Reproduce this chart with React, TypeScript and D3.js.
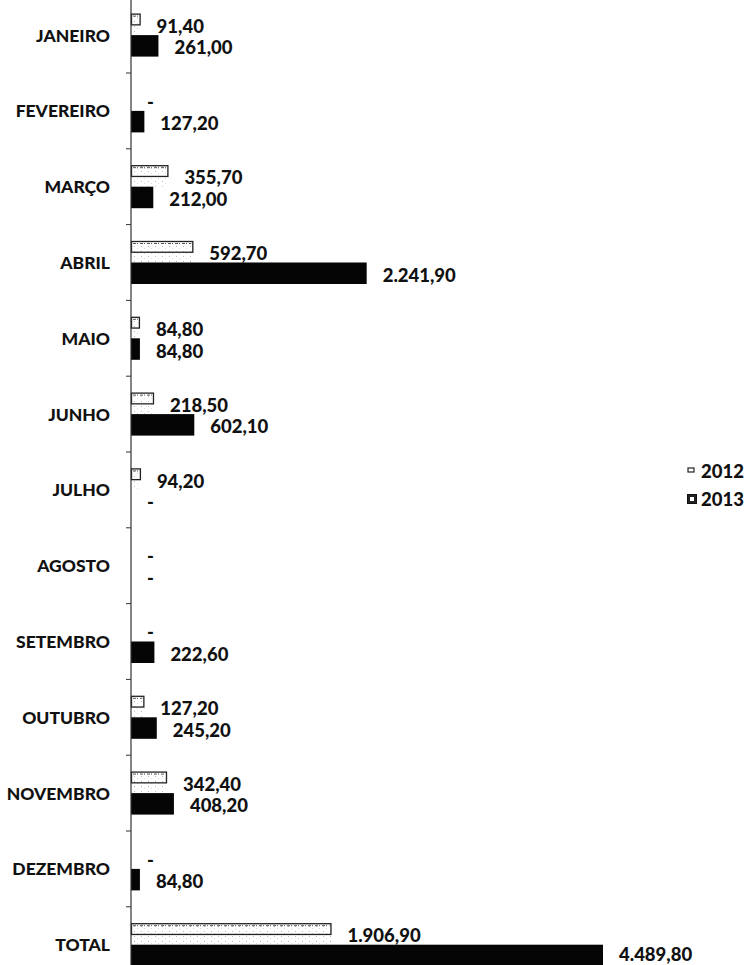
import React from 'react';
import * as d3 from 'd3';

const months = [
  'JANEIRO', 'FEVEREIRO', 'MARÇO', 'ABRIL', 'MAIO', 'JUNHO', 'JULHO',
  'AGOSTO', 'SETEMBRO', 'OUTUBRO', 'NOVEMBRO', 'DEZEMBRO', 'TOTAL',
];
const values2012 = [91.4, 0, 355.7, 592.7, 84.8, 218.5, 94.2, 0, 0, 127.2, 342.4, 0, 1906.9];
const values2013 = [261.0, 127.2, 212.0, 2241.9, 84.8, 602.1, 0, 0, 222.6, 245.2, 408.2, 84.8, 4489.8];
const seriesNames = ['2012', '2013'];

const W = 746;
const H = 965;
const FONT = 'Lato, "Open Sans", sans-serif';

const ptBR = d3.formatLocale({ decimal: ',', thousands: '.', grouping: [3], currency: ['R$', ''] });
const fmt = ptBR.format(',.2f');
const label = (v: number) => (v === 0 ? '-' : fmt(v));

export default function App() {
  const x = d3.scaleLinear().domain([0, 4489.8]).range([131, 603]);
  const y = d3.scaleBand<string>().domain(months).range([-2.8, 982.6]).padding(0);
  const barH = 21.5;
  const inner = d3.scaleBand<string>().domain(seriesNames).range([0, barH * 2]).padding(0);

  const rows = months.map((m, i) => ({ m, v: [values2012[i], values2013[i]] }));
  const step = y.step();
  const boundaries = d3.range(months.length + 1).map(i => y.range()[0] + i * step);

  return (
    <svg width={W} height={H} style={{ position: 'absolute', left: 0, top: 0, background: '#fff' }}
      fontFamily={FONT} fontWeight={900} fill="#111">
      <defs>
        <pattern id="dots2012" width="7" height="5" patternUnits="userSpaceOnUse">
          <rect width="7" height="5" fill="#fff" />
          <rect x="1" y="1" width="1" height="1" fill="#bbb" />
          <rect x="4" y="3" width="1" height="1" fill="#ddd" />
        </pattern>
      </defs>

      {rows.map(({ m, v }) => {
        const cy = (y(m) as number) + y.bandwidth() / 2;
        const top = cy - barH;
        return (
          <g key={m}>
            <text x={110} y={cy} textAnchor="end" dominantBaseline="central" fontSize={17.5}>{m}</text>
            {seriesNames.map((s, j) => {
              const by = top + (inner(s) as number);
              const w = x(v[j]) - x(0);
              const ty = Math.min(by + barH / 2 + 1.5, H - 11);
              return (
                <g key={s}>
                  {v[j] > 0 && j === 0 && (
                    <g>
                      <rect x={x(0)} y={by} width={w} height={barH} fill="url(#dots2012)" />
                      <rect x={x(0) + 0.5} y={by + 0.5} width={Math.max(w - 1, 1)} height={barH / 2}
                        fill="none" stroke="#222" strokeWidth={1.3} />
                      <line x1={x(0) + 2} x2={x(0) + w - 2} y1={by + 2.5} y2={by + 2.5}
                        stroke="#555" strokeWidth={1} strokeDasharray="3 1 1 2" />
                    </g>
                  )}
                  {v[j] > 0 && j === 1 && (
                    <rect x={x(0)} y={by} width={w} height={barH} fill="#050505" />
                  )}
                  <text x={x(v[j]) + 16} y={ty} dominantBaseline="central" fontSize={18.5}>
                    {label(v[j])}
                  </text>
                </g>
              );
            })}
          </g>
        );
      })}

      <line x1={x(0)} x2={x(0)} y1={0} y2={H} stroke="#333" strokeWidth={1.2} />
      {boundaries.map((b, i) => (
        <line key={i} x1={x(0) - 5} x2={x(0)} y1={b} y2={b} stroke="#333" strokeWidth={1} />
      ))}

      <g>
        <rect x={688} y={468} width={6} height={4} fill="#fff" stroke="#222" strokeWidth={1.2} />
        <text x={701} y={471} dominantBaseline="central" fontSize={18.5}>{seriesNames[0]}</text>
        <rect x={687.5} y={494.5} width={9} height={9} fill="#222" stroke="#111" strokeWidth={1} />
        <rect x={690} y={497} width={4} height={4} fill="#fff" />
        <text x={701} y={499} dominantBaseline="central" fontSize={18.5}>{seriesNames[1]}</text>
      </g>
    </svg>
  );
}
